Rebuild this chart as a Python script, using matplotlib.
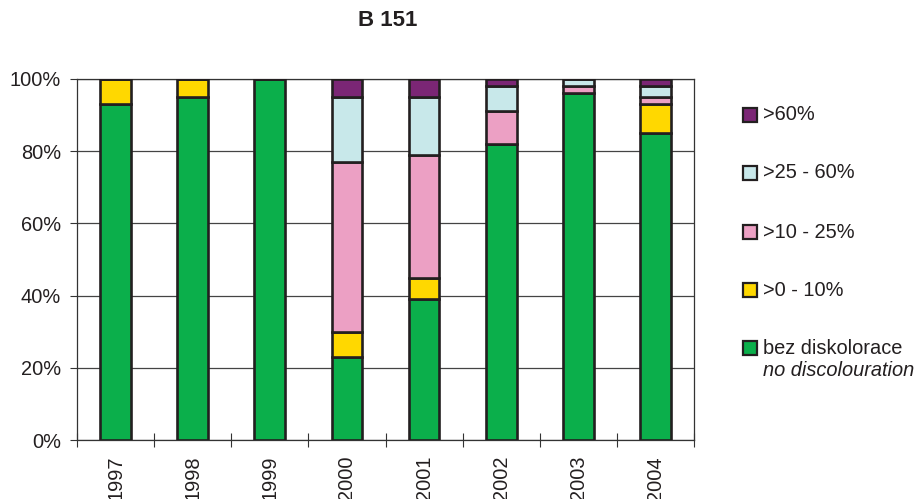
import numpy as np
import matplotlib
matplotlib.use("Agg")
import matplotlib.pyplot as plt
from matplotlib.patches import Rectangle

plt.rcParams['font.family'] = ['Liberation Sans', 'DejaVu Sans']

# share of trees in each discolouration class (%)
years = ['1997', '1998', '1999', '2000', '2001', '2002', '2003', '2004']
no_discol = [93, 95, 100, 23, 39, 82, 96, 85]
discol_0_10 = [7, 5, 0, 7, 6, 0, 0, 8]
discol_10_25 = [0, 0, 0, 47, 34, 9, 2, 2]
discol_25_60 = [0, 0, 0, 18, 16, 7, 2, 3]
discol_60 = [0, 0, 0, 5, 5, 2, 0, 2]

series = [
    (no_discol, '#0BAF4B', 'bez diskolorace'),
    (discol_0_10, '#FFD800', '>0 - 10%'),
    (discol_10_25, '#ECA0C4', '>10 - 25%'),
    (discol_25_60, '#C8E8EA', '>25 - 60%'),
    (discol_60, '#7B2675', '>60%'),
]

ink = '#231F20'

fig = plt.figure(figsize=(9.22, 4.99), dpi=100)
ax = fig.add_axes([77 / 922, 59 / 499, 617 / 922, 361 / 499])

x = np.arange(len(years))
bottom = np.zeros(len(years))
for vals, color, label in series:
    vals = np.array(vals, dtype=float)
    ax.bar(x, vals, width=0.4, bottom=bottom, color=color,
           edgecolor=ink, linewidth=1.9, zorder=3)
    bottom += vals

ax.set_xlim(-0.5, len(years) - 0.5)
ax.set_ylim(0, 100)
ax.set_yticks(np.arange(0, 101, 20))
ax.set_yticklabels([f'{v}%' for v in range(0, 101, 20)])
ax.yaxis.grid(True, color='#444444', linewidth=0.9, zorder=0)
ax.set_axisbelow(True)

ax.set_xticks(x)
ax.set_xticklabels(years, rotation=90, va='top', ha='center')
ax.set_xticks(np.arange(-0.5, len(years)), minor=True)
ax.tick_params(axis='x', which='major', length=0, pad=11.5,
               labelsize=14.4, labelcolor=ink)
ax.tick_params(axis='x', which='minor', direction='inout', length=10,
               width=0.8, color='#333333')
ax.tick_params(axis='y', direction='out', length=5, width=0.8,
               color='#333333', pad=6.5, labelsize=14.4, labelcolor=ink)
for sp in ax.spines.values():
    sp.set_color('#333333')
    sp.set_linewidth(0.9)

fig.text(388 / 922, 1 - 21 / 499, 'B 151', ha='center', va='center',
         fontsize=16, fontweight='bold', color=ink)

# legend drawn as swatches on the right, top class first
legend_y = [115, 173, 232, 290, 348]
for (vals, color, label), yp in zip(series[::-1], legend_y):
    fig.patches.append(Rectangle((743 / 922, 1 - (yp + 7) / 499), 14 / 922, 14 / 499,
                                 transform=fig.transFigure, facecolor=color,
                                 edgecolor=ink, linewidth=1.6))
    fig.text(763 / 922, 1 - yp / 499, label, ha='left', va='center',
             fontsize=14.4, color=ink)
fig.text(763 / 922, 1 - 370 / 499, 'no discolouration', ha='left', va='center',
         fontsize=14.4, color=ink, style='italic')

fig.savefig('out.png', dpi=100)
